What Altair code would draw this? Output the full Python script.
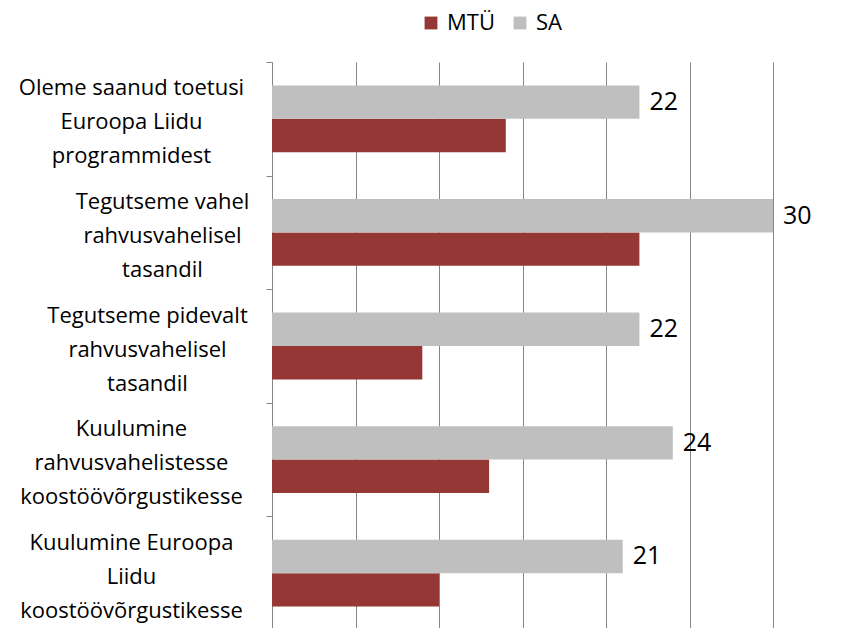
import altair as alt
import pandas as pd

categories = [
    "Oleme saanud toetusi\nEuroopa Liidu\nprogrammidest",
    "Tegutseme vahel\nrahvusvahelisel\ntasandil",
    "Tegutseme pidevalt\nrahvusvahelisel\ntasandil",
    "Kuulumine\nrahvusvahelistesse\nkoostöövõrgustikesse",
    "Kuulumine Euroopa\nLiidu\nkoostöövõrgustikesse",
]
series = ["MTÜ", "SA"]
mtu_values = [14, 22, 9, 13, 10]
sa_values = [22, 30, 22, 24, 21]
label_pad = [135, 104, 119, 135, 135]

rows = []
for c, m, s in zip(categories, mtu_values, sa_values):
    rows.append({"cat": c, "series": "MTÜ", "value": m})
    rows.append({"cat": c, "series": "SA", "value": s})
df = pd.DataFrame(rows)

FONT = "Open Sans"

pad_cond = {
    "condition": [
        {"test": "datum.value === " + repr(c), "value": p}
        for c, p in zip(categories, label_pad)
    ],
    "value": 130,
}

y_enc = alt.Y(
    "cat:N",
    sort=categories,
    title=None,
    scale=alt.Scale(paddingInner=0, paddingOuter=0),
    axis=alt.Axis(
        labelExpr="split(datum.label, '\\n')",
        labelAlign="center",
        labelBaseline="middle",
        labelPadding=pad_cond,
        labelOffset=-31,
        labelFont=FONT,
        labelFontSize=22,
        labelColor="#000000",
        labelLineHeight=34,
        labelLimit=400,
        tickBand="extent",
        tickSize=6,
        tickColor="#868686",
        domainColor="#868686",
        grid=False,
    ),
)
yoff = alt.YOffset("series:N", sort=["SA", "MTÜ"], scale=alt.Scale(paddingOuter=0.7, paddingInner=0))
x_enc = alt.X(
    "value:Q",
    title=None,
    scale=alt.Scale(domain=[0, 30], nice=False),
    axis=alt.Axis(
        values=[0, 5, 10, 15, 20, 25, 30],
        labels=False,
        ticks=False,
        domain=False,
        grid=True,
        gridColor="#868686",
        gridWidth=1,
    ),
)

bars = alt.Chart(df).mark_bar().encode(
    y=y_enc,
    yOffset=yoff,
    x=x_enc,
    color=alt.Color(
        "series:N",
        sort=series,
        scale=alt.Scale(domain=series, range=["#953735", "#BFBFBF"]),
        legend=alt.Legend(
            title=None,
            orient="none",
            direction="horizontal",
            legendX=148,
            legendY=-50,
            symbolType="square",
            symbolSize=165,
            symbolStrokeWidth=0,
            labelFont=FONT,
            labelFontSize=22,
            labelColor="#000000",
            columnPadding=14,
            labelOffset=5,
        ),
    ),
)

labels = alt.Chart(df).transform_filter("datum.series === 'SA'").mark_text(
    align="left", baseline="middle", dx=10, font=FONT, fontSize=25, color="#000000"
).encode(
    y=alt.Y("cat:N", sort=categories),
    yOffset=alt.YOffset("series:N", sort=["SA", "MTÜ"]),
    x=alt.X("value:Q"),
    text=alt.Text("value:Q"),
)

chart = (
    alt.layer(bars, labels)
    .properties(
        width=501,
        height=568,
        autosize=alt.AutoSizeParams(type="none"),
        padding={"left": 264, "top": 54, "right": 60, "bottom": 0},
    )
    .configure_view(stroke=None)
)

chart.save("out.html", embed_options={"renderer": "svg", "actions": False})
